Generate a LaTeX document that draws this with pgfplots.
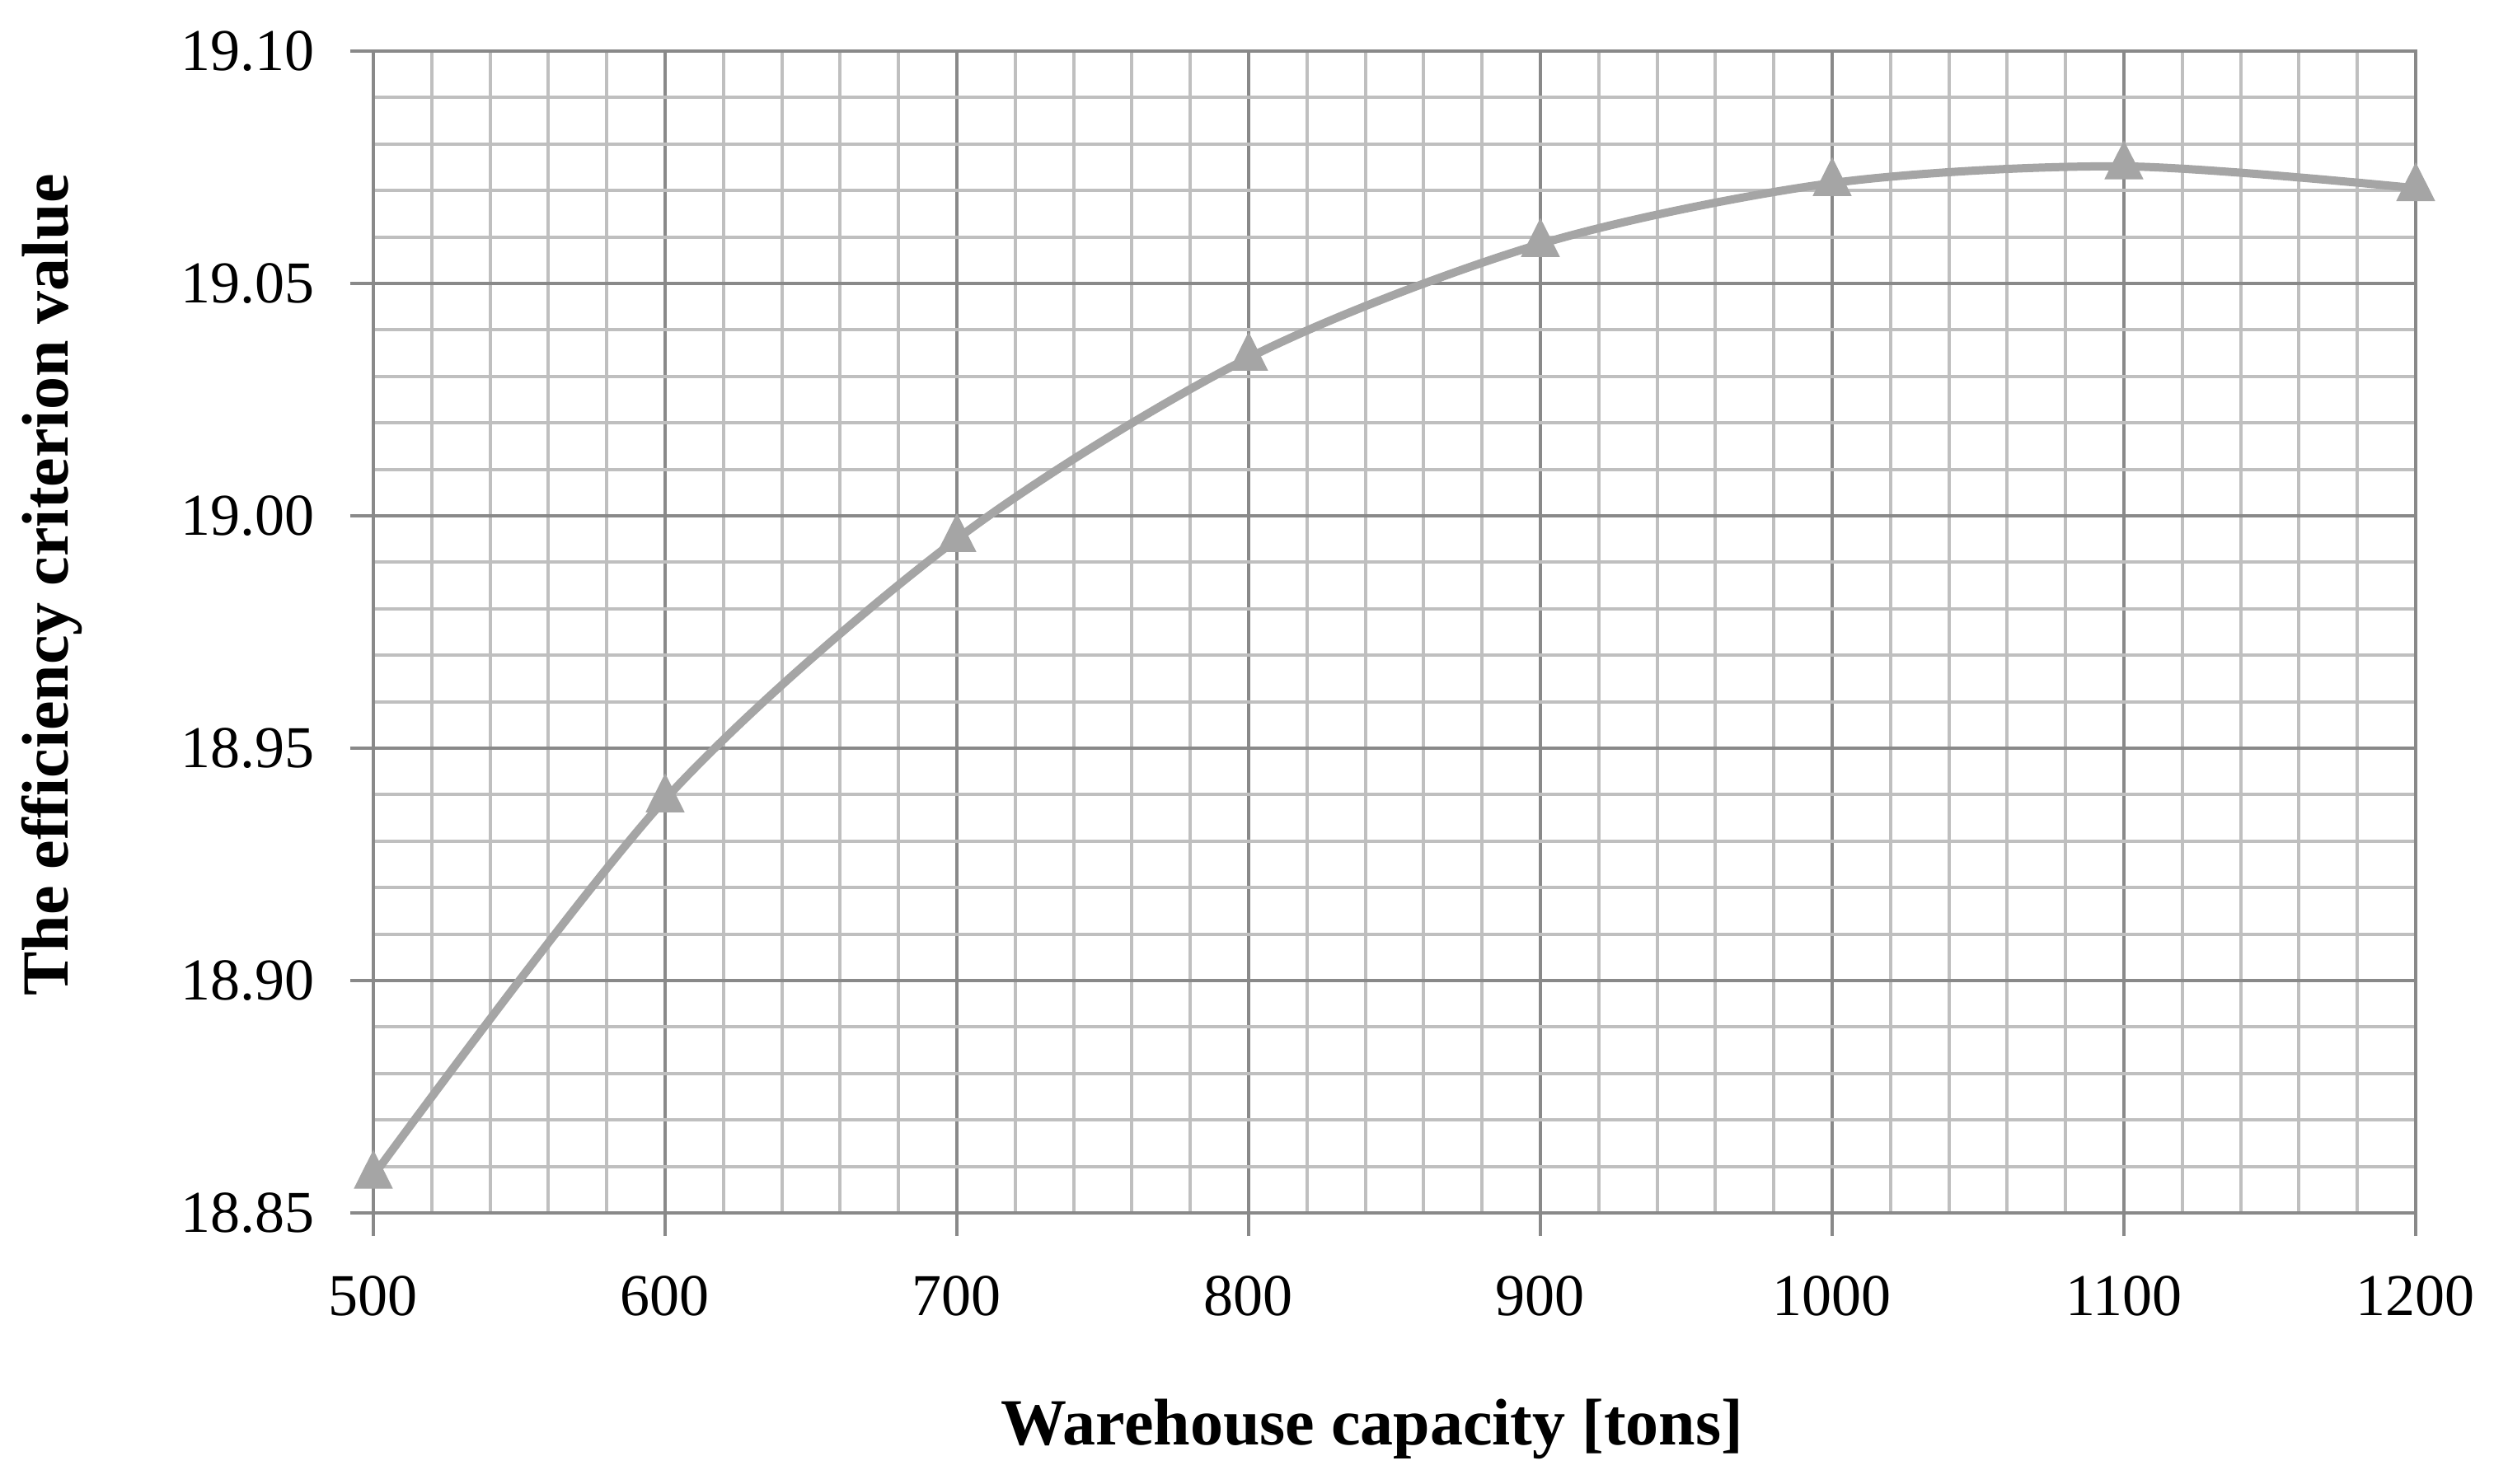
\documentclass[border=0pt]{standalone}
\usepackage{fontspec}
\setmainfont{Liberation Serif}
\usepackage{pgfplots}
\pgfplotsset{compat=1.18}

\definecolor{gridmajor}{RGB}{137,137,137}
\definecolor{gridminor}{RGB}{191,191,191}
\definecolor{seriesgray}{RGB}{165,165,165}

\begin{document}
\begin{tikzpicture}
\begin{axis}[
    scale only axis,
    width=495.6pt, height=282pt,
    xmin=500, xmax=1200,
    ymin=18.85, ymax=19.10,
    xtick={500,600,...,1200},
    ytick={18.85,18.90,...,19.10},
    minor tick num=4,
    minor tick length=0pt,
    major tick length=5.6pt,
    tick align=outside,
    xtick pos=bottom, ytick pos=left,
    grid=both,
    major grid style={draw=gridmajor, line width=0.8pt},
    minor grid style={draw=gridminor, line width=0.8pt},
    axis line style={draw=gridmajor, line width=0.8pt},
    every tick/.style={draw=gridmajor, line width=0.8pt},
    /pgf/number format/assume math mode=true,
    /pgf/number format/1000 sep={},
    tick label style={font=\fontsize{14.4}{17}\selectfont},
    xticklabel style={yshift=-6.2pt},
    yticklabel style={xshift=-5.2pt,
        /pgf/number format/.cd, fixed, fixed zerofill, precision=2},
    xlabel={Warehouse capacity [tons]},
    ylabel={The efficiency criterion value},
    label style={font=\fontsize{16}{19}\selectfont\bfseries},
    xlabel style={at={(axis description cs:0.489,-0.1993)}, anchor=base},
    ylabel style={at={(axis description cs:-0.1497,0.5404)}, anchor=base},
]
\addplot[smooth, tension=0.5, line width=2pt, seriesgray,
         mark=triangle*, mark size=5.2pt,
         mark options={solid, yscale=1.15, fill=seriesgray, draw=seriesgray, line width=0.3pt}]
  coordinates {
    (500,18.858) (600,18.939) (700,18.995) (800,19.034)
    (900,19.0585) (1000,19.0716) (1100,19.0752) (1200,19.0705)
  };
\end{axis}
\path (-90.6pt,-65.6pt) rectangle (514.6pt,294.4pt);
\end{tikzpicture}
\end{document}
